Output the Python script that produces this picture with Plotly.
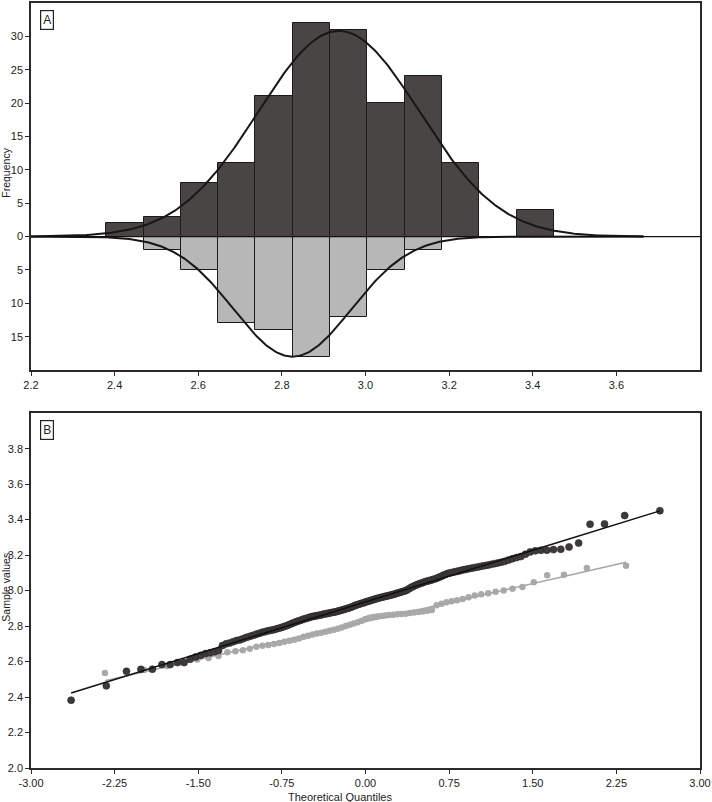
import numpy as np
import plotly.graph_objects as go
from statistics import NormalDist

# ---------------- data ----------------
bin_start = 2.38
bin_width = 0.0892
counts_dark = [2, 3, 8, 11, 21, 32, 31, 20, 24, 11, 0, 4]
counts_light = [0, 2, 5, 13, 14, 18, 12, 5, 2, 0, 0, 0]

x_ticks_a = [2.2, 2.4, 2.6, 2.8, 3.0, 3.2, 3.4, 3.6]
y_ticks_a = [-15, -10, -5, 0, 5, 10, 15, 20, 25, 30]
x_ticks_b = [-3.0, -2.25, -1.5, -0.75, 0.0, 0.75, 1.5, 2.25, 3.0]
y_ticks_b = [2.0, 2.2, 2.4, 2.6, 2.8, 3.0, 3.2, 3.4, 3.6, 3.8]

# sorted sample values (dark group, n=167)
dark_values = [
    2.382, 2.463,
    2.545, 2.556, 2.557,
    2.583, 2.583, 2.594, 2.594, 2.613, 2.626, 2.635, 2.645,
    2.650, 2.655, 2.662, 2.690, 2.700, 2.705, 2.712, 2.718, 2.722, 2.728, 2.735,
    2.740, 2.745, 2.750, 2.756, 2.760, 2.765, 2.768, 2.772, 2.775, 2.778, 2.780,
    2.785, 2.788, 2.792, 2.796, 2.800, 2.805, 2.810, 2.815, 2.820, 2.824,
    2.828, 2.832, 2.836, 2.840, 2.843, 2.846, 2.850, 2.853, 2.855, 2.857,
    2.859, 2.861, 2.863, 2.866, 2.868, 2.870, 2.872, 2.874, 2.876, 2.878,
    2.880, 2.882, 2.885, 2.888, 2.890, 2.893, 2.896, 2.899, 2.902, 2.905,
    2.909, 2.913,
    2.917, 2.920, 2.923, 2.926, 2.929, 2.932, 2.935, 2.938, 2.941, 2.944,
    2.947, 2.950, 2.953, 2.956, 2.958, 2.961, 2.963, 2.966, 2.968, 2.970,
    2.972, 2.975, 2.977, 2.980, 2.983, 2.986, 2.989, 2.992, 2.995, 2.998,
    3.002,
    3.008, 3.014, 3.020, 3.025, 3.030, 3.034, 3.038, 3.042, 3.046, 3.050,
    3.053, 3.056, 3.059, 3.062, 3.066, 3.070, 3.075, 3.080, 3.086, 3.091,
    3.096, 3.099, 3.102, 3.105, 3.108, 3.111, 3.114, 3.117, 3.120, 3.123,
    3.126, 3.129, 3.132, 3.135, 3.138, 3.141, 3.144, 3.148, 3.152, 3.156,
    3.160, 3.165, 3.172, 3.180,
    3.186, 3.192, 3.205, 3.218, 3.224, 3.227, 3.228, 3.231, 3.233, 3.246, 3.268,
    3.374, 3.376, 3.423, 3.450,
]

# sorted sample values (light group, n=71)
light_values = [
    2.536, 2.552,
    2.575, 2.595, 2.612, 2.620, 2.632,
    2.652, 2.658, 2.664, 2.672, 2.684, 2.689, 2.694, 2.699, 2.705, 2.711,
    2.717, 2.723, 2.730,
    2.740, 2.746, 2.752, 2.758, 2.763, 2.768, 2.774, 2.779, 2.785, 2.792,
    2.800, 2.808, 2.815, 2.822,
    2.830, 2.840, 2.847, 2.851, 2.854, 2.857, 2.860, 2.862, 2.864, 2.866,
    2.868, 2.870, 2.873, 2.876, 2.879, 2.882, 2.886, 2.890,
    2.918, 2.926, 2.934, 2.940, 2.946, 2.953, 2.962, 2.972, 2.979, 2.985,
    2.993, 3.001,
    3.010, 3.020, 3.047, 3.086, 3.090,
    3.128, 3.140,
]

# ---------------- helpers ----------------
def filliben_quantiles(n):
    p = (np.arange(1, n + 1) - 0.3175) / (n + 0.365)
    p[-1] = 0.5 ** (1.0 / n)
    p[0] = 1 - p[-1]
    nd = NormalDist()
    return np.array([nd.inv_cdf(float(v)) for v in p])

def normal_curve(values, n_count, xs):
    v = np.array(values)
    m, s = v.mean(), v.std(ddof=1)
    return n_count * bin_width * np.exp(-0.5 * ((xs - m) / s) ** 2) / (s * np.sqrt(2 * np.pi))

centers = [bin_start + bin_width * (i + 0.5) for i in range(len(counts_dark))]

fig = go.Figure()

# ---- panel A: back-to-back histograms ----
fig.add_trace(go.Bar(
    x=centers, y=counts_dark, width=bin_width,
    marker=dict(color="#4a4545", line=dict(color="#1e1a1a", width=1)),
    xaxis="x", yaxis="y", showlegend=False))
fig.add_trace(go.Bar(
    x=centers, y=[-c for c in counts_light], width=bin_width,
    marker=dict(color="#b7b7b7", line=dict(color="#1e1a1a", width=1)),
    xaxis="x", yaxis="y", showlegend=False))

xs = np.linspace(2.2, 3.665, 400)
fig.add_trace(go.Scatter(
    x=xs, y=normal_curve(dark_values, sum(counts_dark), xs), mode="lines",
    line=dict(color="#1a1616", width=2), xaxis="x", yaxis="y", showlegend=False))
fig.add_trace(go.Scatter(
    x=xs, y=-normal_curve(light_values, sum(counts_light), xs), mode="lines",
    line=dict(color="#1a1616", width=2), xaxis="x", yaxis="y", showlegend=False))

# ---- panel B: Q-Q plot ----
z_dark = filliben_quantiles(len(dark_values))
z_light = filliben_quantiles(len(light_values))

fig.add_trace(go.Scatter(
    x=z_light, y=light_values, mode="markers",
    marker=dict(color="#aaaaaa", size=6.5, line=dict(width=0)),
    xaxis="x2", yaxis="y2", showlegend=False))
sl, il = np.polyfit(z_light, light_values, 1)
zl = np.array([z_light[0], z_light[-1]])
fig.add_trace(go.Scatter(
    x=zl, y=sl * zl + il, mode="lines", line=dict(color="#a6a6a6", width=1.5),
    xaxis="x2", yaxis="y2", showlegend=False))

fig.add_trace(go.Scatter(
    x=z_dark, y=dark_values, mode="markers",
    marker=dict(color="#3e3a3a", size=7, line=dict(color="#2a2626", width=0.6)),
    xaxis="x2", yaxis="y2", showlegend=False))
sd_, id_ = np.polyfit(z_dark, dark_values, 1)
zd = np.array([z_dark[0], z_dark[-1]])
fig.add_trace(go.Scatter(
    x=zd, y=sd_ * zd + id_, mode="lines", line=dict(color="#111111", width=1.5),
    xaxis="x2", yaxis="y2", showlegend=False))

font = dict(family="Liberation Sans, Arial, sans-serif", size=11, color="#222222")
title_font = dict(family="Liberation Sans, Arial, sans-serif", size=10.5, color="#222222")
axis_common = dict(showgrid=False, zeroline=False, showline=True, mirror=True,
                   linecolor="#2a2a2a", linewidth=1.5, ticks="outside", ticklen=4,
                   tickcolor="#2a2a2a", tickfont=font)
label_font = dict(family="Liberation Sans, Arial, sans-serif", size=12, color="#222")

fig.update_layout(
    width=712, height=802,
    margin=dict(l=31, r=11, t=1, b=34),
    paper_bgcolor="white", plot_bgcolor="white",
    barmode="overlay", bargap=0,
    font=font,
    xaxis=dict(domain=[0, 1], range=[2.2, 3.8], anchor="y",
               tickvals=x_ticks_a, ticktext=[f"{v:.1f}" for v in x_ticks_a], **axis_common),
    yaxis=dict(domain=[0.5202, 1], range=[-20, 35], anchor="x",
               tickvals=y_ticks_a, ticktext=[str(abs(v)) for v in y_ticks_a], **axis_common),
    xaxis2=dict(domain=[0, 1], range=[-3, 3], anchor="y2",
                tickvals=x_ticks_b, ticktext=[f"{v:.2f}" for v in x_ticks_b], **axis_common),
    yaxis2=dict(domain=[0, 0.4638], range=[2.0, 4.0], anchor="x2",
                tickvals=y_ticks_b, ticktext=[f"{v:.1f}" for v in y_ticks_b], **axis_common),
    shapes=[dict(type="line", xref="x domain", yref="y", x0=0, x1=1, y0=0, y1=0,
                 line=dict(color="#111111", width=1.3), layer="above")],
    annotations=[
        dict(text="A", xref="x domain", yref="y domain", x=0.024, y=0.953,
             xanchor="center", yanchor="middle",
             showarrow=False, font=label_font,
             bordercolor="#222", borderwidth=1.2, borderpad=2, bgcolor="white"),
        dict(text="B", xref="x2 domain", yref="y2 domain", x=0.024, y=0.953,
             xanchor="center", yanchor="middle",
             showarrow=False, font=label_font,
             bordercolor="#222", borderwidth=1.2, borderpad=2, bgcolor="white"),
        dict(text="Frequency", xref="paper", yref="paper", x=-0.0366, y=0.7775,
             xanchor="center", yanchor="middle",
             textangle=-90, showarrow=False, font=title_font),
        dict(text="Sample values", xref="paper", yref="paper", x=-0.0366, y=0.2364,
             xanchor="center", yanchor="middle",
             textangle=-90, showarrow=False, font=title_font),
        dict(text="Theoretical Quantiles", xref="paper", yref="paper", x=0.462, y=-0.038,
             xanchor="center", yanchor="middle",
             showarrow=False, font=font),
    ],
)

fig.write_html("out.html")
